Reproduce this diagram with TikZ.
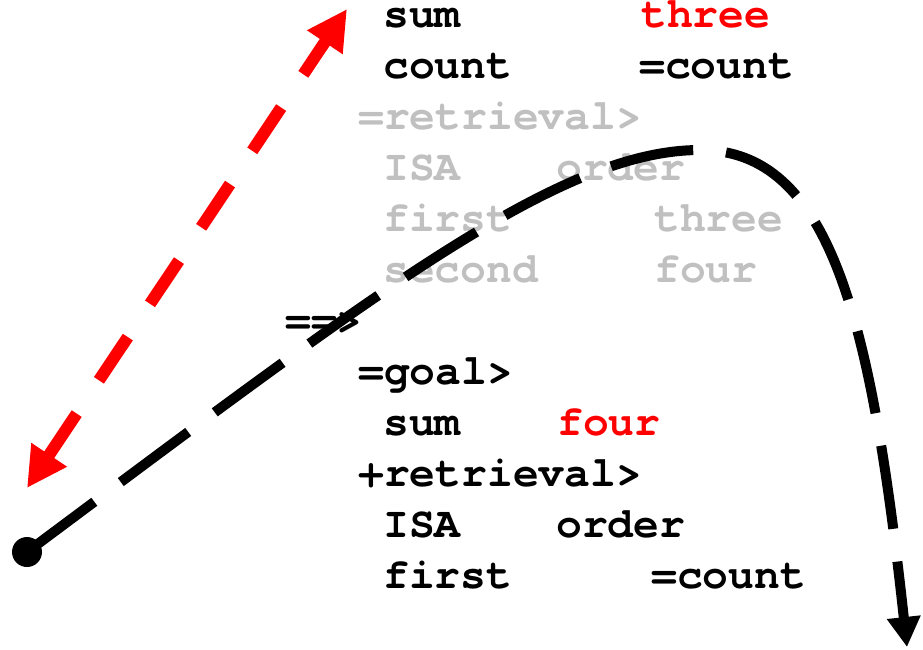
\documentclass[tikz,border=0pt]{standalone}
\usepackage{fontspec}
\newfontfamily\cour{texgyrecursor-bold.otf}[Ligatures={NoCommon,NoRequired,NoContextual}]
\usetikzlibrary{arrows.meta}
\definecolor{gr}{RGB}{192,192,192}
\definecolor{rd}{RGB}{255,0,0}
\begin{document}
\begin{tikzpicture}[x=1pt,y=-1pt,
  txt/.style={anchor=base west, inner sep=0pt, font=\cour\fontsize{43pt}{50pt}\selectfont},
  gtxt/.style={txt, text=gr},
  rtxt/.style={txt, text=rd},
  redarrow/.style={draw=rd, line width=12pt, dash pattern=on 52pt off 40pt,
    {Triangle[length=40pt,width=40pt]}-{Triangle[length=40pt,width=40pt]}},
  blackarrow/.style={draw=black, line width=10pt, dash pattern=on 84pt off 33pt,
    -{Triangle[length=30pt,width=32pt]}},
  dotnode/.style={circle, fill=black, inner sep=0pt, minimum size=30pt}]
\useasboundingbox (0,0) rectangle (923,649);
% texts
\node[txt]  (t1)  at (383,27)  {sum};
\node[rtxt] (t2)  at (641,27)  {three};
\node[txt]  (t3)  at (383,78)  {count};
\node[txt]  (t4)  at (639,78)  {=count};
\node[gtxt] (t5)  at (358,129) {=retrieval>};
\node[gtxt] (t6)  at (383,180) {ISA};
\node[gtxt] (t7)  at (556,180) {order};
\node[gtxt] (t8)  at (383,231) {first};
\node[gtxt] (t9)  at (654,231) {three};
\node[gtxt] (t10) at (383,282) {second};
\node[gtxt] (t11) at (654,282) {four};
\node[txt]  (t12) at (285,333) {==>};
\node[txt]  (t13) at (358,384) {=goal>};
\node[txt]  (t14) at (383,435) {sum};
\node[rtxt] (t15) at (557,435) {four};
\node[txt]  (t16) at (358,486) {+retrieval>};
\node[txt]  (t17) at (383,537) {ISA};
\node[txt]  (t18) at (556,537) {order};
\node[txt]  (t19) at (383,588) {first};
\node[txt]  (t20) at (651,588) {=count};
% connectors
\coordinate (ra) at (27,488);
\coordinate (rb) at (347,9);
\draw[redarrow] (ra) -- (rb);
\node[dotnode] (dot) at (27,552) {};
\coordinate (tip) at (907,647);
\draw[blackarrow] (dot.center) .. controls (377,291) and (560,150) .. (700,150)
  .. controls (830,150) and (871,317) .. (tip);
\end{tikzpicture}
\end{document}
